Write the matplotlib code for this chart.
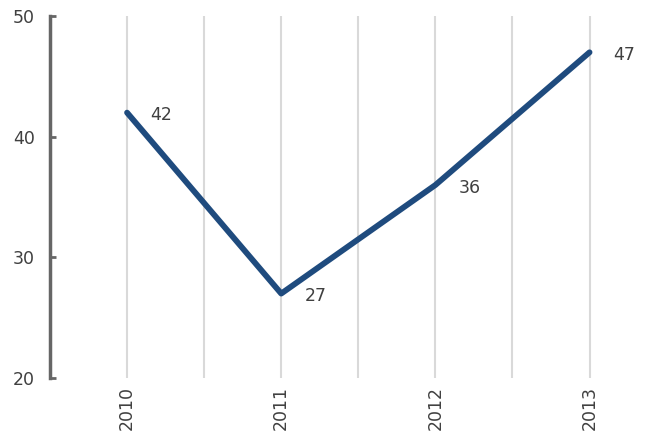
import numpy as np
import matplotlib.pyplot as plt
from matplotlib.ticker import FixedLocator

years = ['2010', '2011', '2012', '2013']
values = [42, 27, 36, 47]
y_ticks = [20, 30, 40, 50]

fig = plt.figure(figsize=(6.62, 4.36), dpi=100)
ax = fig.add_axes([0.0755, 0.133, 0.9245, 0.83])

x = np.arange(len(years))
ax.plot(x, values, color='#1f4b7e', linewidth=4.2, solid_capstyle='round', zorder=3)

for xi, v in zip(x, values):
    ax.annotate(str(v), (xi, v), xytext=(17, -2), textcoords='offset points',
                ha='left', va='center', fontsize=12.5, color='#404040')

ax.set_xlim(-0.5, 3.47)
ax.set_ylim(20, 50)
ax.set_yticks(y_ticks)
ax.set_xticks(x)
ax.set_xticklabels(years, rotation=90)
ax.xaxis.set_minor_locator(FixedLocator(x[:-1] + 0.5))

ax.grid(True, axis='x', which='both', color='#d9d9d9', linewidth=1.5, zorder=0)
ax.tick_params(axis='x', which='both', length=0, pad=6, labelsize=12.5, labelcolor='#404040')
ax.tick_params(axis='y', direction='in', length=4, width=2, color='#666666',
               pad=11, labelsize=12.5, labelcolor='#404040')

for s in ['top', 'right', 'bottom']:
    ax.spines[s].set_visible(False)
ax.spines['left'].set_color('#666666')
ax.spines['left'].set_linewidth(2.5)

fig.savefig('out.png', dpi=100)
